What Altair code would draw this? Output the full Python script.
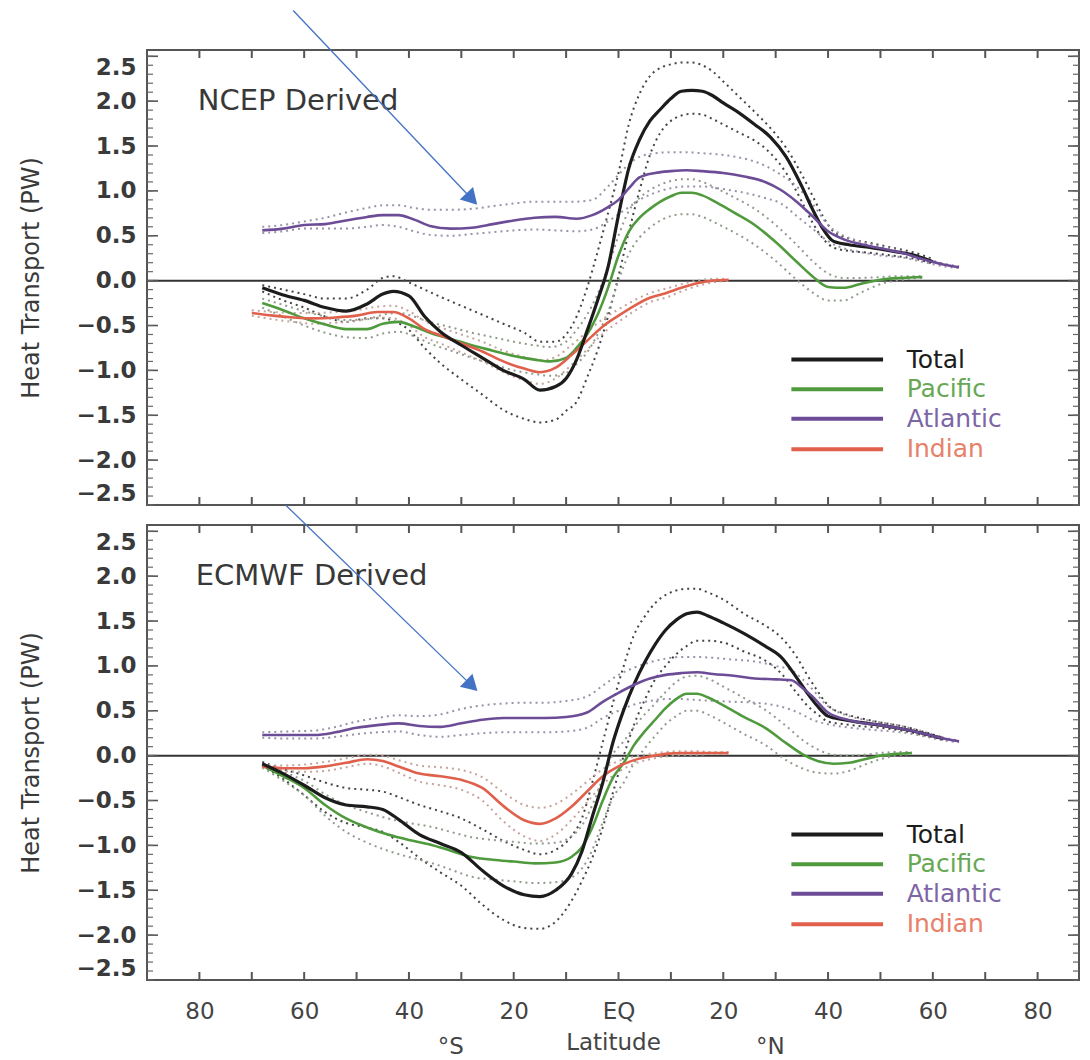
import altair as alt
import pandas as pd

FONT = "DejaVu Sans"

# ---------------- NCEP Derived (top panel) ----------------
ncep_total_lat = [-68, -64, -60, -56, -52, -48, -45, -43, -40, -37, -34, -30, -26, -22, -18, -15, -12, -10, -8, -6, -4, -2,
                  0, 2, 4, 6, 8, 10, 12, 14, 16, 18, 20, 23, 26, 29, 32, 35, 37, 39, 41, 44, 48, 52, 56, 60]
ncep_total = [-0.08, -0.16, -0.22, -0.30, -0.34, -0.26, -0.15, -0.12, -0.17, -0.40, -0.57, -0.72, -0.86, -1.00, -1.10,
              -1.22, -1.18, -1.09, -0.88, -0.56, -0.22, 0.15, 0.73, 1.26, 1.57, 1.78, 1.91, 2.03, 2.11, 2.12, 2.11, 2.06,
              1.98, 1.87, 1.74, 1.60, 1.38, 1.05, 0.80, 0.58, 0.44, 0.40, 0.37, 0.33, 0.29, 0.21]
ncep_total_hi = [-0.05, -0.10, -0.15, -0.20, -0.20, -0.10, 0.03, 0.05, -0.02, -0.10, -0.18, -0.28, -0.38, -0.48, -0.58,
                 -0.68, -0.68, -0.60, -0.40, -0.08, 0.32, 0.75, 1.20, 1.75, 2.08, 2.28, 2.37, 2.41, 2.43, 2.43, 2.40, 2.33,
                 2.22, 2.05, 1.88, 1.70, 1.48, 1.18, 0.95, 0.72, 0.55, 0.47, 0.42, 0.37, 0.32, 0.24]
ncep_total_lo = [-0.12, -0.22, -0.30, -0.40, -0.46, -0.42, -0.42, -0.45, -0.55, -0.75, -0.92, -1.10, -1.27, -1.44, -1.54,
                 -1.58, -1.55, -1.45, -1.35, -1.08, -0.78, -0.40, 0.05, 0.55, 1.00, 1.40, 1.65, 1.78, 1.84, 1.86, 1.85,
                 1.80, 1.74, 1.65, 1.56, 1.42, 1.20, 0.88, 0.65, 0.47, 0.37, 0.33, 0.31, 0.28, 0.25, 0.19]

ncep_atl_lat = [-68, -64, -60, -56, -52, -48, -45, -42, -39, -36, -32, -28, -24, -20, -16, -12, -8, -5, -2, 0,
                2, 4, 7, 10, 13, 16, 20, 24, 28, 31, 34, 37, 40, 43, 46, 50, 54, 58, 62, 65]
ncep_atl = [0.56, 0.58, 0.62, 0.63, 0.67, 0.71, 0.73, 0.73, 0.68, 0.61, 0.58, 0.59, 0.63, 0.67, 0.70, 0.71, 0.69, 0.73,
            0.82, 0.90, 1.03, 1.15, 1.20, 1.22, 1.23, 1.22, 1.20, 1.16, 1.10, 1.01, 0.88, 0.72, 0.55, 0.46, 0.41, 0.36,
            0.31, 0.24, 0.18, 0.15]
ncep_atl_hi = [0.60, 0.62, 0.66, 0.70, 0.76, 0.81, 0.84, 0.84, 0.81, 0.79, 0.79, 0.80, 0.83, 0.86, 0.88, 0.88, 0.88,
               0.90, 1.05, 1.18, 1.30, 1.38, 1.42, 1.43, 1.43, 1.42, 1.40, 1.36, 1.28, 1.18, 1.05, 0.86, 0.62, 0.50,
               0.44, 0.38, 0.33, 0.26, 0.19, 0.16]
ncep_atl_lo = [0.53, 0.55, 0.58, 0.58, 0.58, 0.60, 0.62, 0.60, 0.55, 0.51, 0.50, 0.52, 0.54, 0.56, 0.57, 0.56, 0.55,
               0.57, 0.66, 0.74, 0.82, 0.90, 0.98, 1.03, 1.05, 1.05, 1.02, 0.98, 0.92, 0.86, 0.72, 0.58, 0.44, 0.36,
               0.32, 0.28, 0.26, 0.21, 0.16, 0.14]

ncep_pac_lat = [-68, -64, -60, -56, -52, -48, -45, -42, -39, -36, -32, -28, -24, -20, -16, -13, -10, -8, -6, -4,
                -2, 0, 2, 4, 6, 8, 10, 12, 14, 16, 19, 22, 26, 30, 34, 37, 40, 43, 46, 50, 54, 58]
ncep_pac = [-0.25, -0.33, -0.42, -0.49, -0.54, -0.54, -0.48, -0.46, -0.51, -0.58, -0.65, -0.72, -0.78, -0.84, -0.88,
            -0.90, -0.86, -0.75, -0.60, -0.38, -0.08, 0.28, 0.55, 0.70, 0.80, 0.88, 0.94, 0.98, 0.98, 0.95, 0.86, 0.76,
            0.62, 0.43, 0.21, 0.05, -0.07, -0.08, -0.04, 0.01, 0.03, 0.04]
ncep_pac_hi = [-0.20, -0.27, -0.34, -0.40, -0.44, -0.43, -0.38, -0.36, -0.40, -0.46, -0.52, -0.58, -0.63, -0.68, -0.72,
               -0.74, -0.68, -0.55, -0.38, -0.15, 0.15, 0.50, 0.78, 0.92, 1.01, 1.07, 1.11, 1.13, 1.13, 1.10, 1.02, 0.93,
               0.80, 0.62, 0.40, 0.22, 0.08, 0.03, 0.03, 0.04, 0.05, 0.05]
ncep_pac_lo = [-0.30, -0.40, -0.50, -0.58, -0.63, -0.64, -0.59, -0.57, -0.62, -0.70, -0.78, -0.86, -0.93, -1.00, -1.04,
               -1.06, -1.03, -0.93, -0.80, -0.60, -0.35, 0.00, 0.30, 0.48, 0.59, 0.67, 0.72, 0.74, 0.74, 0.71, 0.63,
               0.54, 0.40, 0.22, 0.01, -0.13, -0.22, -0.22, -0.14, -0.04, 0.01, 0.03]

ncep_ind_lat = [-70, -66, -62, -58, -54, -50, -46, -43, -40, -37, -34, -30, -26, -22, -18, -15, -12, -9, -6, -3,
                0, 3, 6, 9, 12, 15, 18, 21]
ncep_ind = [-0.36, -0.39, -0.41, -0.42, -0.41, -0.39, -0.35, -0.35, -0.42, -0.54, -0.61, -0.70, -0.79, -0.90, -0.98,
            -1.02, -0.97, -0.83, -0.67, -0.51, -0.39, -0.28, -0.19, -0.14, -0.08, -0.03, 0.00, 0.01]
ncep_ind_hi = [-0.33, -0.35, -0.36, -0.36, -0.35, -0.33, -0.29, -0.28, -0.34, -0.45, -0.52, -0.60, -0.68, -0.78, -0.85,
               -0.89, -0.85, -0.72, -0.57, -0.43, -0.32, -0.22, -0.14, -0.09, -0.04, 0.00, 0.02, 0.02]
ncep_ind_lo = [-0.39, -0.43, -0.46, -0.48, -0.47, -0.45, -0.41, -0.42, -0.50, -0.63, -0.70, -0.80, -0.90, -1.02, -1.11,
               -1.15, -1.09, -0.94, -0.77, -0.59, -0.46, -0.34, -0.24, -0.19, -0.12, -0.06, -0.02, 0.00]

# ---------------- ECMWF Derived (bottom panel) ----------------
ecmwf_total_lat = [-68, -64, -60, -56, -52, -48, -45, -42, -38, -34, -30, -26, -22, -18, -15, -12, -9, -7, -5, -3,
                   -1, 1, 3, 5, 7, 9, 11, 13, 15, 17, 20, 24, 28, 31, 34, 36, 38, 40, 43, 46, 50, 54, 58, 62]
ecmwf_total = [-0.09, -0.20, -0.33, -0.47, -0.55, -0.57, -0.60, -0.71, -0.88, -0.98, -1.08, -1.28, -1.45, -1.55, -1.57,
               -1.50, -1.32, -1.07, -0.68, -0.30, 0.16, 0.51, 0.80, 1.04, 1.24, 1.40, 1.51, 1.58, 1.60, 1.56, 1.48,
               1.36, 1.22, 1.10, 0.87, 0.70, 0.55, 0.44, 0.40, 0.37, 0.34, 0.30, 0.25, 0.19]
ecmwf_total_hi = [-0.07, -0.15, -0.22, -0.30, -0.36, -0.38, -0.40, -0.46, -0.55, -0.62, -0.70, -0.82, -0.95, -1.05,
                  -1.10, -1.05, -0.90, -0.70, -0.30, 0.15, 0.60, 1.00, 1.35, 1.55, 1.70, 1.79, 1.84, 1.86, 1.86, 1.82,
                  1.74, 1.58, 1.45, 1.32, 1.10, 0.90, 0.72, 0.56, 0.47, 0.42, 0.37, 0.33, 0.27, 0.20]
ecmwf_total_lo = [-0.11, -0.26, -0.44, -0.63, -0.75, -0.80, -0.85, -0.96, -1.14, -1.30, -1.45, -1.66, -1.83, -1.92,
                  -1.93, -1.85, -1.62, -1.40, -1.14, -0.80, -0.40, 0.00, 0.35, 0.62, 0.85, 1.00, 1.13, 1.22, 1.28, 1.28,
                  1.26, 1.16, 1.06, 0.92, 0.70, 0.56, 0.46, 0.38, 0.35, 0.33, 0.31, 0.28, 0.23, 0.18]

ecmwf_atl_lat = [-68, -63, -58, -54, -50, -46, -42, -38, -34, -30, -26, -22, -18, -14, -10, -6, -3, 0, 3, 6,
                 9, 12, 15, 18, 22, 26, 30, 33, 35, 37, 40, 43, 46, 50, 54, 58, 62, 65]
ecmwf_atl = [0.23, 0.23, 0.23, 0.26, 0.31, 0.34, 0.36, 0.33, 0.32, 0.36, 0.40, 0.42, 0.42, 0.42, 0.43, 0.48, 0.60, 0.70,
             0.79, 0.86, 0.90, 0.92, 0.93, 0.91, 0.89, 0.86, 0.85, 0.84, 0.76, 0.66, 0.48, 0.41, 0.37, 0.34, 0.30, 0.25,
             0.19, 0.16]
ecmwf_atl_hi = [0.26, 0.27, 0.28, 0.32, 0.38, 0.42, 0.45, 0.44, 0.46, 0.52, 0.56, 0.58, 0.59, 0.59, 0.61, 0.66, 0.78,
                0.90, 0.98, 1.04, 1.08, 1.10, 1.10, 1.09, 1.07, 1.05, 1.00, 0.95, 0.86, 0.74, 0.55, 0.46, 0.41, 0.37,
                0.33, 0.27, 0.20, 0.17]
ecmwf_atl_lo = [0.20, 0.19, 0.19, 0.21, 0.24, 0.26, 0.27, 0.23, 0.21, 0.23, 0.25, 0.26, 0.26, 0.26, 0.27, 0.31, 0.42,
                0.50, 0.57, 0.61, 0.63, 0.63, 0.62, 0.61, 0.60, 0.59, 0.56, 0.51, 0.46, 0.40, 0.35, 0.32, 0.30, 0.28,
                0.26, 0.22, 0.17, 0.15]

ecmwf_pac_lat = [-68, -64, -60, -56, -52, -48, -44, -40, -36, -32, -28, -24, -20, -16, -12, -9, -7, -5, -3, -1,
                 1, 3, 5, 7, 9, 11, 13, 15, 17, 20, 24, 28, 32, 35, 38, 41, 44, 47, 50, 53, 56]
ecmwf_pac = [-0.11, -0.23, -0.36, -0.55, -0.70, -0.80, -0.88, -0.94, -0.99, -1.06, -1.13, -1.16, -1.18, -1.20, -1.19,
             -1.13, -1.02, -0.80, -0.50, -0.24, -0.08, 0.12, 0.27, 0.40, 0.53, 0.63, 0.69, 0.69, 0.65, 0.56, 0.43, 0.31,
             0.14, 0.02, -0.06, -0.09, -0.08, -0.04, 0.00, 0.02, 0.03]
ecmwf_pac_hi = [-0.09, -0.18, -0.28, -0.43, -0.55, -0.63, -0.70, -0.75, -0.79, -0.85, -0.91, -0.94, -0.96, -0.98, -0.97,
                -0.90, -0.78, -0.55, -0.26, 0.02, 0.16, 0.32, 0.46, 0.58, 0.71, 0.82, 0.88, 0.89, 0.86, 0.77, 0.64,
                0.51, 0.33, 0.18, 0.07, 0.01, 0.00, 0.01, 0.03, 0.04, 0.04]
ecmwf_pac_lo = [-0.13, -0.28, -0.44, -0.67, -0.85, -0.97, -1.06, -1.13, -1.19, -1.27, -1.35, -1.38, -1.40, -1.42, -1.41,
                -1.36, -1.26, -1.05, -0.74, -0.46, -0.30, -0.08, 0.08, 0.22, 0.35, 0.44, 0.50, 0.50, 0.46, 0.37, 0.24,
                0.12, -0.05, -0.14, -0.19, -0.20, -0.17, -0.10, -0.04, 0.00, 0.02]

ecmwf_ind_lat = [-68, -64, -60, -56, -52, -48, -45, -42, -38, -34, -30, -26, -22, -18, -15, -12, -9, -6, -3, 0,
                 3, 6, 9, 12, 15, 18, 21]
ecmwf_ind = [-0.12, -0.14, -0.14, -0.12, -0.08, -0.04, -0.06, -0.12, -0.20, -0.23, -0.27, -0.36, -0.56, -0.72, -0.76,
             -0.70, -0.57, -0.40, -0.23, -0.12, -0.05, -0.01, 0.02, 0.03, 0.03, 0.03, 0.03]
ecmwf_ind_hi = [-0.10, -0.11, -0.10, -0.07, -0.03, 0.01, 0.00, -0.05, -0.11, -0.13, -0.16, -0.24, -0.41, -0.55, -0.58,
                -0.54, -0.43, -0.29, -0.15, -0.06, -0.01, 0.02, 0.04, 0.05, 0.05, 0.04, 0.04]
ecmwf_ind_lo = [-0.14, -0.17, -0.18, -0.17, -0.13, -0.09, -0.12, -0.19, -0.29, -0.33, -0.38, -0.50, -0.73, -0.90, -0.95,
                -0.88, -0.72, -0.52, -0.32, -0.18, -0.09, -0.04, -0.01, 0.01, 0.01, 0.02, 0.02]

# ---------------- labels / legend / annotations ----------------
series_names = ["Total", "Pacific", "Atlantic", "Indian"]
legend_pw = [-0.88, -1.21, -1.54, -1.88]
legend_line_lat = [33, 50.5]
legend_text_lat = 55
panel_titles = ["NCEP Derived", "ECMWF Derived"]
panel_title_lat = [-80.3, -80.7]
panel_title_pw = 2.0
x_label_values = [-80, -60, -40, -20, 0, 20, 40, 60, 80]
x_tick_values = [-80, -70, -60, -50, -40, -30, -20, -10, 0, 10, 20, 30, 40, 50, 60, 70, 80]
y_label_values = [-2.5, -2.0, -1.5, -1.0, -0.5, 0.0, 0.5, 1.0, 1.5, 2.0, 2.5]
y_minor_values = [round(-2.5 + 0.1 * i, 1) for i in range(51)]
hemi_lat = [-32, 29]
hemi_text = ["°S", "°N"]
# annotation arrows (start lat/PW, head lat/PW)
arrow_top = dict(lat0=-62.1, pw0=3.01, lat1=-28.0, pw1=0.91, angle=137)
arrow_bot = dict(lat0=-63.5, pw0=2.79, lat1=-28.0, pw1=0.78, angle=134)

LINE_COLORS = {"Total": "#1c1c1c", "Pacific": "#4f9a3c", "Atlantic": "#6c4c96", "Indian": "#e0604c"}
TEXT_COLORS = {"Total": "#1c1c1c", "Pacific": "#68a854", "Atlantic": "#7d66a6", "Indian": "#e8806a"}
BOUND_COLORS = {"Total": "#444444", "Pacific": "#8f9c8c", "Atlantic": "#9a92a8", "Indian": "#c4a49c"}
LINE_WIDTHS = {"Total": 3.2, "Pacific": 2.6, "Atlantic": 2.6, "Indian": 2.6}

W, H = 932, 455
X_DOMAIN = [-90, 87.9]
Y_DOMAIN = [-2.5, 2.57]
ARROW = "#4472C4"


def build(series):
    lines, bounds = [], []
    for name, lats, vals, hi, lo in series:
        for la, v in zip(lats, vals):
            lines.append({"lat": la, "v": v, "series": name, "col": LINE_COLORS[name]})
        for tag, arr in (("hi", hi), ("lo", lo)):
            for la, v in zip(lats, arr):
                bounds.append({"lat": la, "v": v, "key": name + tag, "col": BOUND_COLORS[name]})
    return pd.DataFrame(lines), pd.DataFrame(bounds)


def panel(title, title_lat, series, arrow, show_x):
    lines_df, bounds_df = build(series)
    xs = alt.Scale(domain=X_DOMAIN, nice=False, zero=False)
    ys = alt.Scale(domain=Y_DOMAIN, nice=False, zero=False)
    if show_x:
        xaxis = alt.Axis(values=x_label_values,
                         labelExpr="datum.value == 0 ? 'EQ' : format(abs(datum.value), 'd')",
                         ticks=False, domain=False, grid=False, labelFontSize=23, labelColor="#444",
                         labelPadding=20, title="Latitude", titleFontSize=23, titleFontWeight="normal",
                         titleColor="#444", titlePadding=8, labelFont=FONT, titleFont=FONT)
    else:
        xaxis = None
    yaxis = alt.Axis(values=y_label_values, format=".1f", ticks=False, domain=False, grid=False,
                     labelFontSize=23, labelFontWeight="bold", labelColor="#3a3a3a", labelPadding=11,
                     labelFlush=8, title="Heat Transport (PW)", titleFontSize=24, titleFontWeight="normal",
                     titleColor="#3a3a3a", titlePadding=32, labelFont=FONT, titleFont=FONT)

    def X(f):
        return alt.X(f, type="quantitative", scale=xs, axis=xaxis)

    def Y(f):
        return alt.Y(f, type="quantitative", scale=ys, axis=yaxis)

    layers = []
    # zero line
    layers.append(alt.Chart(pd.DataFrame({"v": [0.0]})).mark_rule(color="#333", strokeWidth=2)
                  .encode(y=Y("v")))
    # uncertainty bounds (dotted)
    layers.append(alt.Chart(bounds_df).mark_line(interpolate="monotone", strokeDash=[2, 4], strokeWidth=2)
                  .encode(x=X("lat"), y=Y("v"), detail="key:N", color=alt.Color("col:N", scale=None)))
    # main lines
    for name in ["Pacific", "Indian", "Total", "Atlantic"]:
        sub = lines_df[lines_df.series == name]
        layers.append(alt.Chart(sub).mark_line(interpolate="monotone", strokeWidth=LINE_WIDTHS[name],
                                               color=LINE_COLORS[name])
                      .encode(x=X("lat"), y=Y("v")))
    # legend
    leg = pd.DataFrame({"series": series_names, "y": legend_pw,
                        "x0": [legend_line_lat[0]] * 4, "x1": [legend_line_lat[1]] * 4,
                        "tx": [legend_text_lat] * 4,
                        "col": [LINE_COLORS[s] for s in series_names],
                        "tcol": [TEXT_COLORS[s] for s in series_names]})
    layers.append(alt.Chart(leg).mark_rule(strokeWidth=4)
                  .encode(x=X("x0"), x2="x1", y=Y("y"), color=alt.Color("col:N", scale=None)))
    layers.append(alt.Chart(leg).mark_text(align="left", baseline="middle", fontSize=25, font=FONT)
                  .encode(x=X("tx"), y=Y("y"), text="series:N", color=alt.Color("tcol:N", scale=None)))
    # panel title
    layers.append(alt.Chart(pd.DataFrame({"x": [title_lat], "y": [panel_title_pw], "t": [title]}))
                  .mark_text(align="left", baseline="middle", fontSize=29, font=FONT, color="#383838")
                  .encode(x=X("x"), y=Y("y"), text="t:N"))
    # ticks: x major on top and bottom
    xt = pd.DataFrame({"v": x_tick_values})
    layers.append(alt.Chart(xt).mark_rule(color="#555", strokeWidth=2)
                  .encode(x=X("v"), y=alt.value(0), y2=alt.value(8)))
    layers.append(alt.Chart(xt).mark_rule(color="#555", strokeWidth=2)
                  .encode(x=X("v"), y=alt.value(H), y2=alt.value(H - 8)))
    # y ticks left and right
    ymaj = pd.DataFrame({"v": y_label_values})
    ymin = pd.DataFrame({"v": y_minor_values})
    layers.append(alt.Chart(ymaj).mark_rule(color="#555", strokeWidth=1.6)
                  .encode(y=Y("v"), x=alt.value(0), x2=alt.value(11)))
    layers.append(alt.Chart(ymin).mark_rule(color="#666", strokeWidth=1.2)
                  .encode(y=Y("v"), x=alt.value(0), x2=alt.value(6)))
    layers.append(alt.Chart(ymaj).mark_rule(color="#555", strokeWidth=1.6)
                  .encode(y=Y("v"), x=alt.value(W), x2=alt.value(W - 11)))
    layers.append(alt.Chart(ymin).mark_rule(color="#666", strokeWidth=1.2)
                  .encode(y=Y("v"), x=alt.value(W), x2=alt.value(W - 6)))
    # annotation arrow
    adf = pd.DataFrame({"lat0": [arrow["lat0"]], "pw0": [arrow["pw0"]],
                        "lat1": [arrow["lat1"]], "pw1": [arrow["pw1"]]})
    layers.append(alt.Chart(adf).mark_rule(color=ARROW, strokeWidth=1.3)
                  .encode(x=X("lat0"), y=Y("pw0"), x2="lat1", y2="pw1"))
    layers.append(alt.Chart(adf).mark_point(shape="triangle-up", filled=True, size=330, opacity=1,
                                            angle=arrow["angle"], color=ARROW, strokeWidth=0)
                  .encode(x=X("lat1"), y=Y("pw1")))
    if show_x:
        hdf = pd.DataFrame({"lat": hemi_lat, "t": hemi_text})
        layers.append(alt.Chart(hdf).mark_text(fontSize=23, font=FONT, color="#444", baseline="middle")
                      .encode(x=X("lat"), y=alt.value(H + 67), text="t:N"))
    return alt.layer(*layers).properties(width=W, height=H)


top = panel(panel_titles[0], panel_title_lat[0],
            [("Total", ncep_total_lat, ncep_total, ncep_total_hi, ncep_total_lo),
             ("Pacific", ncep_pac_lat, ncep_pac, ncep_pac_hi, ncep_pac_lo),
             ("Atlantic", ncep_atl_lat, ncep_atl, ncep_atl_hi, ncep_atl_lo),
             ("Indian", ncep_ind_lat, ncep_ind, ncep_ind_hi, ncep_ind_lo)],
            arrow_top, False)
bottom = panel(panel_titles[1], panel_title_lat[1],
               [("Total", ecmwf_total_lat, ecmwf_total, ecmwf_total_hi, ecmwf_total_lo),
                ("Pacific", ecmwf_pac_lat, ecmwf_pac, ecmwf_pac_hi, ecmwf_pac_lo),
                ("Atlantic", ecmwf_atl_lat, ecmwf_atl, ecmwf_atl_hi, ecmwf_atl_lo),
                ("Indian", ecmwf_ind_lat, ecmwf_ind, ecmwf_ind_hi, ecmwf_ind_lo)],
               arrow_bot, True)

chart = (alt.vconcat(top, bottom, spacing=20, bounds="flush")
         .properties(padding={"left": 10, "top": 0, "right": 0, "bottom": 0}, background="white")
         .configure_view(stroke="#555", strokeWidth=2)
         .configure_axis(labelFont=FONT, titleFont=FONT))

chart.save("out.html", embed_options={"renderer": "svg", "actions": False})
